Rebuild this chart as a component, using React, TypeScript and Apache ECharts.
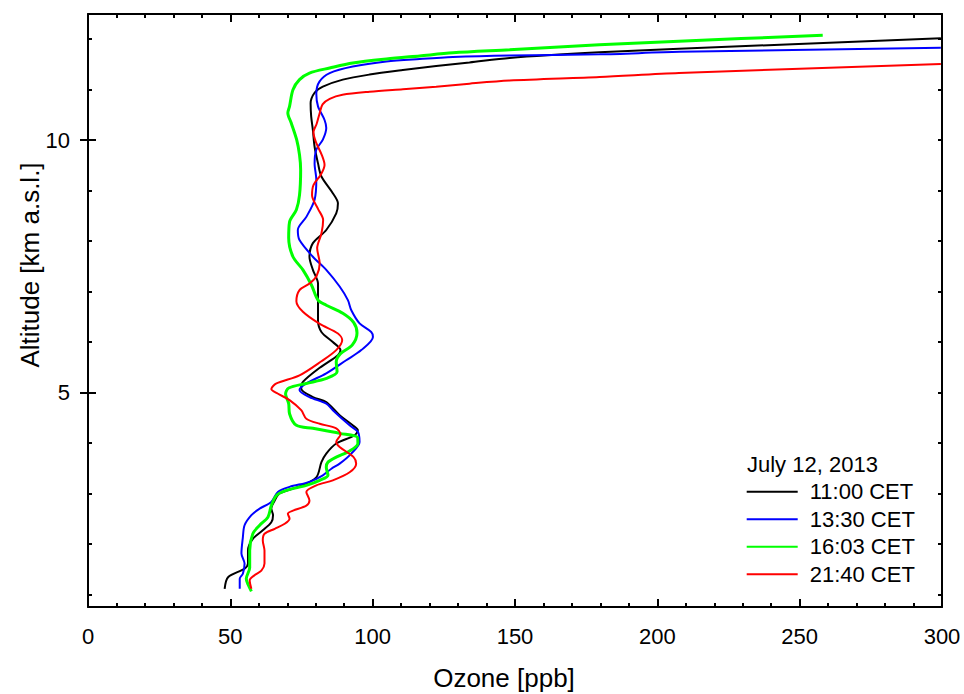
import React, { useEffect, useRef } from "react";
import * as echarts from "echarts";

const seriesNames = ["11:00 CET", "13:30 CET", "16:03 CET", "21:40 CET"];
const seriesColors = ["#000000", "#0000ff", "#00ff00", "#ff0000"];
const seriesWidths = [2, 2, 3, 2];
const legendTitle = "July 12, 2013";
const xTitle = "Ozone [ppb]";
const yTitle = "Altitude [km a.s.l.]";
const yLabelValues = [5, 10];
const yMinorTickValues = [1, 2, 3, 4, 5, 6, 7, 8, 9, 10, 11, 12];

const ozone1100 = [48.0, 49.2, 55.0, 56.2, 56.2, 57.9, 61.4, 64.4, 65.0, 64.4, 65.6, 67.3, 74.3, 80.2, 82.0, 83.7, 87.2, 93.6, 94.8, 93.0, 88.4, 83.7, 79.0, 74.9, 75.5, 81.4, 87.8, 88.7, 86.0, 82.0, 80.8, 80.8, 80.8, 79.0, 77.8, 79.0, 83.7, 87.2, 87.8, 86.0, 82.0, 80.8, 79.6, 79.0, 78.4, 78.2, 79.6, 82.5, 89.5, 98.9, 110.6, 122.3, 134.0, 148.1, 179.6, 207.6, 299.6];
const alt1100 = [1.11, 1.34, 1.51, 1.61, 1.87, 2.10, 2.27, 2.43, 2.57, 2.70, 2.86, 3.00, 3.14, 3.32, 3.62, 3.79, 3.99, 4.15, 4.25, 4.35, 4.55, 4.81, 4.91, 5.08, 5.21, 5.49, 5.74, 5.84, 6.00, 6.20, 6.43, 6.83, 7.16, 7.43, 7.69, 7.96, 8.22, 8.55, 8.75, 8.95, 9.28, 9.54, 9.87, 10.20, 10.47, 10.73, 10.94, 11.06, 11.20, 11.30, 11.39, 11.47, 11.54, 11.63, 11.74, 11.81, 12.02];

const ozone1330 = [53.3, 53.3, 54.4, 55.0, 53.9, 54.4, 55.0, 57.4, 60.3, 64.4, 66.7, 70.8, 77.8, 82.5, 85.5, 88.4, 92.5, 95.4, 94.8, 91.9, 86.0, 83.7, 77.8, 74.3, 76.7, 83.7, 90.7, 96.0, 100.1, 99.5, 95.4, 92.5, 91.3, 88.4, 83.7, 79.0, 74.3, 73.7, 76.7, 79.6, 80.2, 79.6, 80.2, 82.5, 83.7, 83.1, 80.8, 80.2, 81.3, 84.9, 93.0, 104.8, 116.5, 128.2, 148.1, 179.7, 207.8, 299.6];
const alt1330 = [1.11, 1.31, 1.41, 1.61, 1.81, 2.13, 2.37, 2.57, 2.70, 2.83, 3.03, 3.13, 3.23, 3.36, 3.49, 3.59, 3.79, 4.02, 4.22, 4.35, 4.65, 4.78, 4.91, 5.05, 5.18, 5.38, 5.64, 5.84, 6.10, 6.20, 6.37, 6.63, 6.83, 7.10, 7.43, 7.69, 8.02, 8.22, 8.48, 8.82, 9.21, 9.54, 9.81, 10.01, 10.24, 10.40, 10.67, 10.92, 11.16, 11.33, 11.46, 11.56, 11.61, 11.65, 11.68, 11.70, 11.75, 11.83];

const ozone1603 = [57.4, 56.2, 55.6, 56.8, 56.8, 57.9, 60.3, 63.2, 64.4, 66.2, 69.7, 76.7, 81.4, 84.3, 83.7, 84.3, 87.2, 91.9, 94.8, 94.7, 88.4, 79.0, 73.2, 70.8, 70.5, 69.4, 70.5, 76.7, 83.8, 87.5, 87.2, 88.7, 92.8, 94.5, 93.3, 89.5, 83.7, 80.8, 78.5, 75.5, 72.0, 70.5, 70.8, 73.2, 74.3, 74.7, 74.3, 73.3, 71.4, 70.2, 70.8, 72.0, 74.3, 77.8, 84.9, 93.0, 104.8, 116.5, 128.2, 148.1, 179.6, 207.6, 258.1];
const alt1603 = [1.06, 1.20, 1.31, 1.53, 1.87, 2.20, 2.37, 2.53, 2.76, 2.96, 3.06, 3.16, 3.26, 3.36, 3.52, 3.62, 3.72, 3.84, 3.99, 4.11, 4.19, 4.29, 4.35, 4.58, 4.78, 4.97, 5.09, 5.18, 5.28, 5.41, 5.61, 5.77, 5.94, 6.18, 6.39, 6.57, 6.73, 6.83, 7.13, 7.43, 7.69, 8.06, 8.38, 8.62, 8.91, 9.41, 9.71, 10.01, 10.34, 10.54, 10.67, 11.00, 11.20, 11.33, 11.43, 11.53, 11.61, 11.67, 11.73, 11.79, 11.89, 11.96, 12.08];

const ozone2140 = [57.4, 56.8, 58.5, 60.9, 62.0, 62.0, 61.4, 62.0, 65.6, 69.1, 70.8, 70.2, 72.0, 76.7, 77.8, 76.7, 80.2, 86.0, 91.9, 94.2, 93.3, 88.4, 87.2, 88.7, 87.2, 81.4, 76.7, 74.9, 70.8, 66.6, 64.4, 66.2, 74.3, 82.0, 87.2, 89.3, 87.8, 81.4, 75.5, 73.2, 74.3, 77.8, 80.3, 81.4, 80.5, 82.0, 82.6, 80.8, 78.7, 79.2, 81.7, 83.1, 82.1, 80.0, 79.2, 80.3, 81.4, 82.4, 84.9, 89.4, 98.9, 110.6, 122.3, 134.0, 148.1, 179.7, 207.6, 299.6];
const alt2140 = [1.11, 1.28, 1.38, 1.47, 1.61, 1.87, 2.07, 2.20, 2.30, 2.40, 2.50, 2.60, 2.66, 2.76, 2.86, 3.03, 3.16, 3.26, 3.42, 3.59, 3.72, 3.92, 4.02, 4.17, 4.29, 4.38, 4.48, 4.65, 4.85, 4.98, 5.07, 5.18, 5.34, 5.62, 5.84, 6.04, 6.17, 6.36, 6.60, 6.81, 7.03, 7.16, 7.31, 7.56, 7.86, 8.15, 8.42, 8.64, 8.91, 9.11, 9.31, 9.51, 9.71, 9.97, 10.16, 10.32, 10.54, 10.71, 10.82, 10.90, 10.96, 11.01, 11.06, 11.12, 11.18, 11.25, 11.33, 11.51];

const ozoneSets = [ozone1100, ozone1330, ozone1603, ozone2140];
const altSets = [alt1100, alt1330, alt1603, alt2140];

const FONT = "'Liberation Sans', Arial, Helvetica, sans-serif";

export default function App() {
  const ref = useRef<HTMLDivElement>(null);

  useEffect(() => {
    if (!ref.current) return;
    const chart = echarts.init(ref.current, null, { renderer: "svg" });
    const black = "#000000";
    const axisLine = { show: true, onZero: false, lineStyle: { color: black, width: 2 } };
    const yMin = 0.75;
    const yMax = 12.5;

    const xBase = (pos: "bottom" | "top", showLabel: boolean) => ({
      type: "value",
      gridIndex: 0,
      position: pos,
      min: 0,
      max: 300,
      interval: 50,
      axisLine,
      axisTick: { show: true, inside: true, length: 8, lineStyle: { color: black, width: 2 } },
      minorTick: { show: true, splitNumber: 5, length: 4, lineStyle: { color: black, width: 2 } },
      splitLine: { show: false },
      minorSplitLine: { show: false },
      axisLabel: {
        show: showLabel,
        color: black,
        fontSize: 22,
        fontFamily: FONT,
        margin: 18,
      },
    });

    const yBase = (pos: "left" | "right", major: boolean, showLabel: boolean) => ({
      type: "value",
      gridIndex: 0,
      position: pos,
      offset: 0,
      min: yMin,
      max: yMax,
      axisLine: major ? { show: false } : axisLine,
      axisTick: {
        show: true,
        inside: true,
        length: major ? 8 : 4,
        customValues: major ? yLabelValues : yMinorTickValues,
        lineStyle: { color: black, width: 2 },
      },
      splitLine: { show: false },
      axisLabel: {
        show: showLabel,
        customValues: yLabelValues,
        color: black,
        fontSize: 22,
        fontFamily: FONT,
        margin: 18,
      },
    });

    const option: any = {
      animation: false,
      backgroundColor: "#ffffff",
      grid: { left: 88, top: 14, width: 854, height: 593, containLabel: false },
      xAxis: [xBase("bottom", true), xBase("top", false)],
      yAxis: [
        yBase("left", false, true),
        yBase("left", true, false),
        yBase("right", false, false),
        yBase("right", true, false),
      ],
      legend: {
        orient: "vertical",
        left: 746.7,
        top: 480.7,
        padding: 0,
        itemWidth: 51,
        itemHeight: 2,
        itemGap: 5.5,
        icon: "rect",
        selectedMode: false,
        textStyle: {
          color: black,
          fontSize: 22,
          fontFamily: FONT,
          lineHeight: 22,
          padding: [0, 0, 0, 7],
        },
        data: seriesNames,
      },
      graphic: [
        {
          type: "text",
          x: 747,
          y: 464,
          style: {
            text: legendTitle,
            fill: black,
            fontSize: 22,
            fontFamily: FONT,
            align: "left",
            verticalAlign: "middle",
          },
        },
        {
          type: "text",
          x: 504,
          y: 678,
          style: {
            text: xTitle,
            fill: black,
            fontSize: 26,
            fontFamily: FONT,
            align: "center",
            verticalAlign: "middle",
          },
        },
        {
          type: "text",
          x: 30,
          y: 265,
          rotation: Math.PI / 2,
          style: {
            text: yTitle,
            fill: black,
            fontSize: 26,
            fontFamily: FONT,
            align: "center",
            verticalAlign: "middle",
          },
        },
      ],
      series: seriesNames.map((name, i) => ({
        name,
        type: "line",
        xAxisIndex: 0,
        yAxisIndex: 0,
        showSymbol: false,
        symbol: "none",
        smooth: 0.3,
        clip: true,
        color: seriesColors[i],
        lineStyle: { color: seriesColors[i], width: seriesWidths[i] },
        data: ozoneSets[i].map((o, k) => [o, altSets[i][k]]),
      })),
    };

    chart.setOption(option);
    return () => chart.dispose();
  }, []);

  return (
    <div
      ref={ref}
      style={{ position: "fixed", left: 0, top: 0, width: 964, height: 694, background: "#fff" }}
    />
  );
}
